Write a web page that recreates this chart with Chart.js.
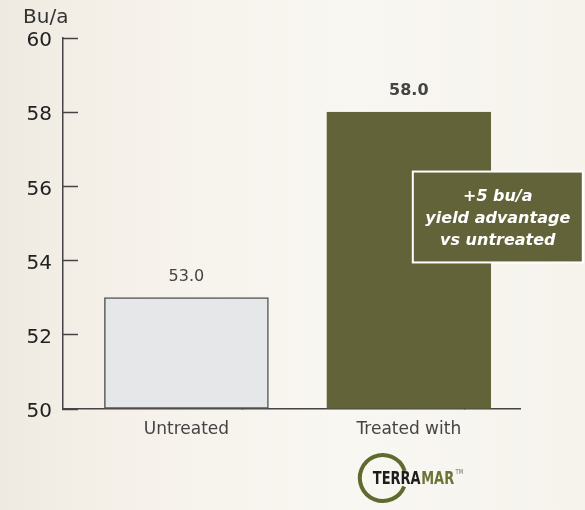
<!DOCTYPE html>
<html><head><meta charset="utf-8">
<script src="https://cdn.jsdelivr.net/npm/chart.js@4.4.1/dist/chart.umd.min.js"></script>
<style>
html,body{margin:0;padding:0;}
#wrap{width:585px;height:510px;position:relative;overflow:hidden;
background:linear-gradient(90deg,#efeae1 0%,#f6f2eb 25%,#f9f7f2 60%,#f6f3ed 100%);}
canvas{display:block;}
</style></head>
<body><div id="wrap"><canvas id="c" width="585" height="510"></canvas></div>
<script>
const categories = ['Untreated', 'Treated with'];
const categoryPositions = [0, 1];
const yieldValues = [53.0, 58.0];
const yTicks = [50, 52, 54, 56, 58, 60];
const unitLabel = 'Bu/a';
const calloutLines = ['+5 bu/a', 'yield advantage', 'vs untreated'];
const barColors = ['#e6e7e9', '#63633a'];
const barBorders = ['#555555', '#63633a'];

const FONT = "'DejaVu Sans', sans-serif";
Chart.defaults.font.family = FONT;

const valueLabels = {
  id: 'valueLabels',
  afterDatasetsDraw(chart) {
    const ctx = chart.ctx;
    const meta = chart.getDatasetMeta(0);
    ctx.save();
    ctx.textAlign = 'center';
    ctx.textBaseline = 'middle';
    meta.data.forEach((bar, i) => {
      ctx.fillStyle = '#444';
      ctx.font = (i === 1 ? 'bold ' : '') + '16px ' + FONT;
      ctx.fillText(yieldValues[i].toFixed(1), bar.x, bar.y - 21);
    });
    ctx.restore();
  }
};

const callout = {
  id: 'callout',
  afterDraw(chart) {
    const ctx = chart.ctx;
    const xs = chart.scales.x, ys = chart.scales.y;
    const left = xs.getPixelForValue(1) + 4;
    const top = ys.getPixelForValue(56.4);
    const bottom = ys.getPixelForValue(53.95);
    const w = 170;
    ctx.save();
    ctx.fillStyle = '#63633a';
    ctx.fillRect(left, top, w, bottom - top);
    ctx.strokeStyle = '#ffffff';
    ctx.lineWidth = 2;
    ctx.strokeRect(left, top, w, bottom - top);
    ctx.fillStyle = '#ffffff';
    ctx.font = 'italic bold 16px ' + FONT;
    ctx.textAlign = 'center';
    ctx.textBaseline = 'middle';
    const cx = left + w / 2;
    calloutLines.forEach((t, i) => ctx.fillText(t, cx, top + 25 + i * 22));
    ctx.restore();
  }
};

const logo = {
  id: 'logo',
  afterDraw(chart) {
    const ctx = chart.ctx;
    const xs = chart.scales.x;
    const cx = xs.getPixelForValue(1) - 26;
    const cy = 478;
    ctx.save();
    ctx.strokeStyle = '#5f6b2e';
    ctx.lineWidth = 4;
    ctx.beginPath();
    ctx.arc(cx, cy, 23, 0.12 * Math.PI, 1.9 * Math.PI);
    ctx.stroke();
    ctx.translate(cx - 10, cy + 1);
    ctx.scale(0.72, 1);
    ctx.font = "bold 18px " + FONT;
    ctx.textBaseline = 'middle';
    ctx.textAlign = 'left';
    ctx.fillStyle = '#1d1d1b';
    ctx.fillText('TERRA', 0, 0);
    const w = ctx.measureText('TERRA').width;
    ctx.fillStyle = '#6b7436';
    ctx.fillText('MAR', w + 1, 0);
    const w2 = ctx.measureText('MAR').width;
    ctx.font = "7px " + FONT;
    ctx.fillStyle = '#666';
    ctx.fillText('TM', w + w2 + 3, -7);
    ctx.restore();
  }
};

new Chart(document.getElementById('c'), {
  type: 'bar',
  data: {
    datasets: [{
      data: categoryPositions.map((x, i) => ({ x: x, y: yieldValues[i] })),
      backgroundColor: barColors,
      borderColor: barBorders,
      borderWidth: 1.5,
      borderSkipped: false,
      barThickness: 164,
      base: 50
    }]
  },
  options: {
    responsive: false,
    animation: false,
    layout: { padding: { left: 23, right: 65, top: 0, bottom: 61 } },
    plugins: {
      legend: { display: false },
      tooltip: { enabled: false },
      title: {
        display: true, text: unitLabel, align: 'start', color: '#333',
        font: { size: 20, weight: 'normal', family: FONT },
        padding: { top: 0, bottom: 8 }
      }
    },
    scales: {
      x: {
        type: 'linear', min: -0.555, max: 1.5, offset: false,
        afterBuildTicks: s => { s.ticks = [0, 0.5, 1, 1.5].map(v => ({ value: v })); },
        afterFit: s => { s.height = 40; },
        ticks: {
          autoSkip: false, maxRotation: 0, color: '#444',
          font: { size: 17, family: FONT }, padding: 18,
          callback: v => { const i = categoryPositions.indexOf(v); return i >= 0 ? categories[i] : ''; }
        },
        grid: {
          drawOnChartArea: false, tickLength: -8, tickWidth: 1.5,
          tickColor: c => (c.tick && Number.isInteger(c.tick.value)) ? 'rgba(0,0,0,0)' : '#444'
        },
        border: { color: '#444', width: 1.5 }
      },
      y: {
        min: 50, max: 60,
        afterBuildTicks: s => { s.ticks = yTicks.map(v => ({ value: v })); },
        afterFit: s => { s.width = 40; },
        ticks: { color: '#222', font: { size: 20, family: FONT }, padding: 26, labelOffset: 3 },
        grid: { drawOnChartArea: false, tickLength: -15, tickWidth: 1.5, tickColor: '#444' },
        border: { color: '#444', width: 1.5 }
      }
    }
  },
  plugins: [valueLabels, callout, logo]
});
</script>
</body></html>
